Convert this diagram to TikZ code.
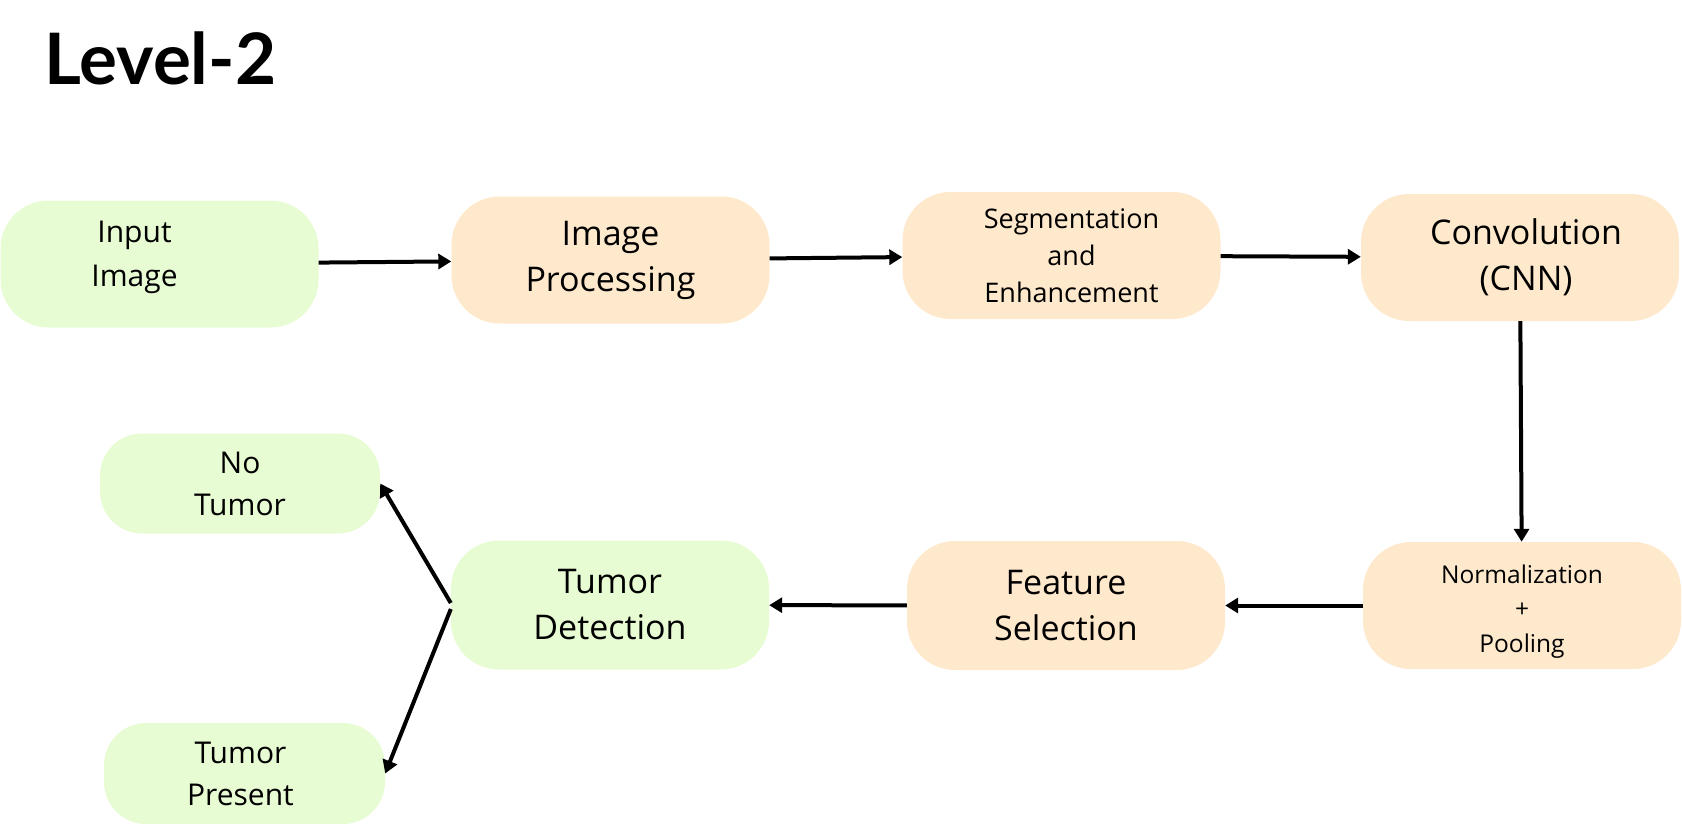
\documentclass[tikz,border=0pt]{standalone}
\usepackage{fontspec}
\setmainfont{Open Sans}
\newfontfamily\titlefont{Lato}
\usetikzlibrary{arrows.meta}
\definecolor{lgreen}{HTML}{E8FCD3}
\definecolor{lorange}{HTML}{FFE9CC}
\begin{document}
\begin{tikzpicture}[x=1pt, y=-1pt,
    box/.style={rounded corners=48pt, align=center, inner sep=0pt,
      minimum width=318pt, minimum height=127pt, font=\fontsize{34}{46}\selectfont},
    gbox/.style={box, fill=lgreen},
    obox/.style={box, fill=lorange},
    sbox/.style={gbox, rounded corners=42pt, minimum width=281pt, minimum height=100pt,
      font=\fontsize{30}{42}\selectfont},
    arr/.style={-{Triangle[length=13pt,width=15pt]}, line width=4pt}]
    \useasboundingbox (0,0) rectangle (1682,825);
    \node [anchor=base west, font=\titlefont\bfseries\fontsize{71}{71}\selectfont] (title) at (41,84) {Level-2};

    \node [gbox, font=\fontsize{30}{44}\selectfont] (in) at (159.5,264) {\hspace*{-50pt}Input\\\hspace*{-50pt}Image\rule[-21pt]{0pt}{0pt}};
    \node [obox] (ip) at (610.5,260) {Image\\Processing};
    \node [obox, font=\fontsize{27}{37}\selectfont] (seg) at (1061.5,255.5) {\hspace*{20pt}Segmentation\\\hspace*{20pt}and\\\hspace*{20pt}Enhancement};
    \node [obox] (cnn) at (1520,257.5) {\hspace*{12pt}Convolution\\\hspace*{12pt}(CNN)};
    \node [obox, font=\fontsize{24.5}{34.5}\selectfont] (norm) at (1522,605.5) {\rule{0pt}{30pt}Normalization\\+\\Pooling};
    \node [obox, minimum height=129pt] (feat) at (1066,605.5) {Feature\\Selection};
    \node [gbox, minimum height=129pt] (det) at (610,605) {Tumor\\Detection};
    \node [sbox, minimum width=280pt] (nt) at (240,483.5) {No\\Tumor};
    \node [sbox, minimum height=101pt] (tp) at (244.5,773.5) {\hspace*{-8pt}Tumor\\\hspace*{-8pt}Present};

    \draw [arr] (in) -- (ip);
    \draw [arr] (ip) -- (seg);
    \draw [arr] (seg) -- (cnn);
    \draw [arr] (cnn) -- (norm);
    \draw [arr] (norm) -- (feat);
    \draw [arr] (feat) -- (det);
    \draw [arr] ([yshift=2pt]det.west) -- (nt.east);
    \draw [arr] ([yshift=-4pt]det.west) -- (tp.east);
\end{tikzpicture}
\end{document}
